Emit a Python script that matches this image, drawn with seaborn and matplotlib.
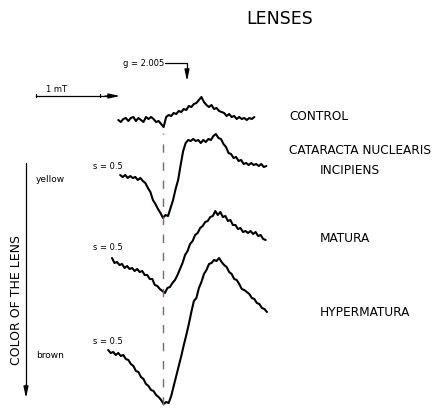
import numpy as np
import pandas as pd
import matplotlib
matplotlib.use("Agg")
import matplotlib.pyplot as plt
import seaborn as sns

W, H = 442, 412          # output size in pixels
MT_PX = 63.0             # pixels per 1 mT on the field axis
ZERO_PX = 163.0          # x pixel of the dashed reference line

# EPR first-derivative spectra, one sample every 0.04 mT
FIELD_STEP = 0.04
control = [-2, -4, -1, 0, -3, 0, 1, -3, 0, -2, -4, 1, -1, 1, -1, -4, -3, -6, -9,
           1, 3, 2, 5, 4, 7, 6, 9, 8, 12, 11, 14, 15, 18, 21, 16, 13, 11, 13, 9,
           10, 7, 6, 5, 2, 4, 1, 2, -1, 1, -1, 0, -2, 0, -1, 1]
cataracta = [0, -2, 0, -3, -1, -3, -2, -5, -3, -6, -8, -13, -17, -25, -29, -34,
             -38, -43, -40, -41, -33, -25, -14, -5, 10, 24, 32, 35, 34, 36, 34,
             35, 32, 35, 33, 36, 35, 39, 41, 37, 36, 31, 28, 22, 21, 17, 18, 14,
             15, 11, 12, 10, 12, 10, 11, 9, 11, 8, 9]
matura = [0, -5, -4, -7, -6, -10, -8, -11, -10, -13, -11, -14, -13, -17, -17,
          -21, -21, -27, -28, -31, -33, -35, -30, -29, -25, -22, -17, -11, -5, 3,
          7, 14, 17, 23, 25, 30, 32, 36, 37, 41, 42, 47, 43, 46, 41, 42, 37, 38,
          33, 33, 29, 30, 26, 27, 25, 27, 24, 26, 22, 23, 19, 18]
hypermatura = [0, -3, -2, -5, -3, -6, -5, -9, -10, -14, -16, -21, -22, -27, -29,
               -34, -36, -40, -41, -45, -47, -50, -54, -52, -53, -46, -36, -26,
               -16, -6, 5, 15, 26, 38, 49, 52, 62, 68, 76, 80, 86, 87, 90, 89, 92,
               88, 85, 83, 78, 76, 71, 70, 66, 61, 60, 58, 56, 52, 51, 47, 46, 42,
               41, 38]

names = ["control", "cataracta", "matura", "hypermatura"]
signals = [control, cataracta, matura, hypermatura]
start_field = [-0.71, -0.68, -0.81, -0.87]   # mT, relative to dashed line
offsets = [294, 237, 154, 62]                # vertical stacking of the traces

rows = []
for name, sig, f0, off in zip(names, signals, start_field, offsets):
    sig = np.asarray(sig, dtype=float)
    field = f0 + FIELD_STEP * np.arange(len(sig))
    rows.append(pd.DataFrame({"sample": name, "field": field, "y": sig + off}))
df = pd.concat(rows, ignore_index=True)

sns.set_theme(style="white")
plt.rcParams["font.family"] = ["DejaVu Sans"]
plt.rcParams["text.color"] = "black"

fig = plt.figure(figsize=(W / 100, H / 100), dpi=100)
ax = fig.add_axes([0, 0, 1, 1])
sns.lineplot(data=df, x="field", y="y", units="sample", estimator=None,
             sort=False, color="black", lw=1.5, ax=ax)
ax.set_xlim(-ZERO_PX / MT_PX, (W - ZERO_PX) / MT_PX)
ax.set_ylim(0, H)
ax.set_axis_off()

ARROW = dict(arrowstyle="-|>,head_length=0.55,head_width=0.12",
             color="black", lw=0.9, shrinkA=0, shrinkB=0)


def pt(x, y):
    """pixel position -> data coords"""
    return ((x - ZERO_PX) / MT_PX, H - y)


def ftext(x, y, s, size, **kw):
    fig.text(x / W, 1 - y / H, s, fontsize=size, va="center", **kw)


# dashed reference line through the minima
ax.plot([0, 0], [H - 405, H - 133], ls=(0, (6, 7)), lw=1.0, color="#7a6a62")

# 1 mT scale bar
ax.plot(*zip(pt(36, 96), pt(110, 96)), color="black", lw=0.9)
for xt in (36, 100):
    ax.plot(*zip(pt(xt, 93.5), pt(xt, 97)), color="black", lw=0.9)
ax.annotate("", xy=pt(120, 96), xytext=pt(105, 96), arrowprops=ARROW)
ftext(56, 90, "1 mT", 6, ha="center")

# g marker
ax.plot(*zip(pt(165, 63), pt(187, 63), pt(187, 72)), color="black", lw=0.9)
ax.annotate("", xy=pt(187, 81), xytext=pt(187, 70), arrowprops=ARROW)
ftext(144, 63, "g = 2.005", 6, ha="center")

# colour-of-lens axis
ax.plot(*zip(pt(26, 163), pt(26, 388)), color="black", lw=0.9)
ax.annotate("", xy=pt(26, 398), xytext=pt(26, 385), arrowprops=ARROW)
fig.text(16.5 / W, 1 - 300 / H, "COLOR OF THE LENS", fontsize=9,
         rotation=90, ha="center", va="center")
ftext(36, 180, "yellow", 6.5, ha="left")
ftext(36, 355, "brown", 6.5, ha="left")

# scale factors
for ys in (167, 248, 342):
    ftext(93, ys, "s = 0.5", 6, ha="left")

# sample labels
ftext(289, 117, "CONTROL", 8.7, ha="left")
ftext(289, 150, "CATARACTA NUCLEARIS", 8.7, ha="left")
ftext(320, 170, "INCIPIENS", 8.7, ha="left")
ftext(320, 238, "MATURA", 8.7, ha="left")
ftext(320, 312, "HYPERMATURA", 8.7, ha="left")

ftext(280, 18.5, "LENSES", 12.5, ha="center")

fig.savefig("out.png", dpi=100, facecolor="white")
